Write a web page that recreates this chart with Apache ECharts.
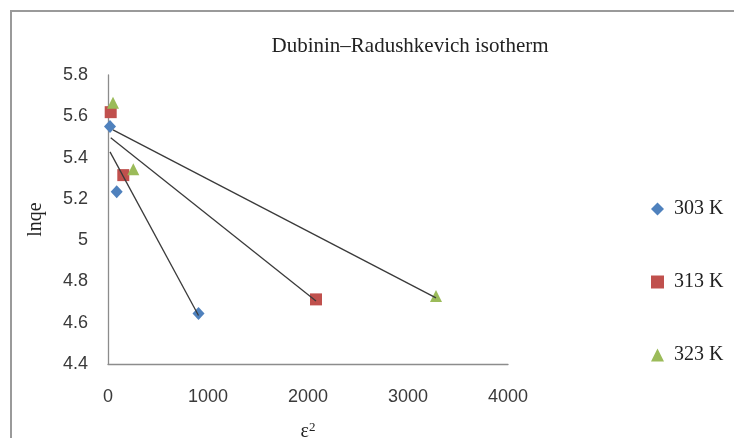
<!DOCTYPE html>
<html>
<head>
<meta charset="utf-8">
<script src="https://cdn.jsdelivr.net/npm/echarts@6/dist/echarts.min.js"></script>
<style>
  html, body { margin: 0; padding: 0; background: #ffffff; }
  #chart { width: 734px; height: 438px; }
</style>
</head>
<body>
<div id="chart"></div>
<script>
// Dubinin–Radushkevich isotherm: ln qe against ε² at three temperatures
const seriesNames = ['303 K', '313 K', '323 K'];
const eps2_303 = [20, 87, 905];
const lnqe_303 = [5.55, 5.235, 4.645];
const eps2_313 = [27, 153, 2080];
const lnqe_313 = [5.62, 5.315, 4.713];
const eps2_323 = [50, 253, 3280];
const lnqe_323 = [5.665, 5.343, 4.729];

const xTicks = { min: 0, max: 4000, interval: 1000 };
const yTicks = { min: 4.4, max: 5.8, interval: 0.2 };

const colors = ['#4F81BD', '#C0504D', '#9BBB59'];
const symbols = ['diamond', 'rect', 'triangle'];

function pairs(xs, ys) {
  return xs.map((x, i) => [x, ys[i]]);
}

// Least-squares linear trend line spanning the measured ε² range
function trend(xs, ys) {
  const n = xs.length;
  const mx = xs.reduce((a, b) => a + b, 0) / n;
  const my = ys.reduce((a, b) => a + b, 0) / n;
  let sxy = 0, sxx = 0;
  for (let i = 0; i < n; i++) {
    sxy += (xs[i] - mx) * (ys[i] - my);
    sxx += (xs[i] - mx) * (xs[i] - mx);
  }
  const slope = sxy / sxx;
  const icpt = my - slope * mx;
  const x0 = Math.min(...xs), x1 = Math.max(...xs);
  return [[x0, icpt + slope * x0], [x1, icpt + slope * x1]];
}

const groups = [
  [eps2_303, lnqe_303],
  [eps2_313, lnqe_313],
  [eps2_323, lnqe_323]
];

const series = [];
groups.forEach(([xs, ys], i) => {
  series.push({
    name: seriesNames[i],
    type: 'scatter',
    symbol: symbols[i],
    symbolSize: i === 0 ? [12, 13] : 12,
    itemStyle: { color: colors[i], opacity: 1 },
    data: pairs(xs, ys),
    z: 2 + i
  });
});
groups.forEach(([xs, ys], i) => {
  series.push({
    name: seriesNames[i] + ' trend',
    type: 'line',
    showSymbol: false,
    symbol: 'none',
    lineStyle: { color: '#3a3a3a', width: 1.3 },
    data: trend(xs, ys),
    silent: true,
    z: 6
  });
});

const chart = echarts.init(document.getElementById('chart'));
chart.setOption({
  animation: false,
  backgroundColor: '#ffffff',
  title: {
    text: 'Dubinin–Radushkevich isotherm',
    left: 405,
    top: 31,
    textAlign: 'center',
    textStyle: {
      fontFamily: 'Liberation Serif',
      fontSize: 21,
      fontWeight: 'normal',
      color: '#222222'
    }
  },
  legend: {
    orient: 'vertical',
    left: 646,
    top: 194,
    itemGap: 53,
    itemWidth: 13,
    itemHeight: 13,
    textStyle: { fontFamily: 'Liberation Serif', fontSize: 20, color: '#222222', padding: [0, 0, 0, 5] },
    data: seriesNames.map((n, i) => ({ name: n, icon: symbols[i] }))
  },
  grid: { left: 108, top: 75, right: 226, bottom: 74, containLabel: false, outerBoundsMode: 'none' },
  xAxis: {
    type: 'value',
    min: xTicks.min,
    max: xTicks.max,
    interval: xTicks.interval,
    name: '{e|ε}{s|2}',
    nameLocation: 'middle',
    nameGap: 57,
    nameTextStyle: {
      rich: {
        e: { fontFamily: 'Liberation Serif', fontSize: 20, color: '#222222' },
        s: { fontFamily: 'Liberation Serif', fontSize: 13, color: '#222222', verticalAlign: 'top', padding: [0, 0, 8, 0] }
      }
    },
    axisLine: { show: true, lineStyle: { color: '#8c8c8c', width: 1.3 } },
    axisTick: { show: false },
    splitLine: { show: false },
    axisLabel: {
      fontFamily: 'Liberation Sans', fontSize: 18, color: '#3a3a3a', margin: 24,
      formatter: v => String(v)
    }
  },
  yAxis: {
    type: 'value',
    min: yTicks.min,
    max: yTicks.max,
    interval: yTicks.interval,
    name: 'lnqe',
    nameLocation: 'middle',
    nameRotate: 90,
    nameGap: 62,
    nameTextStyle: { fontFamily: 'Liberation Serif', fontSize: 20, color: '#222222' },
    axisLine: { show: true, lineStyle: { color: '#8c8c8c', width: 1.3 } },
    axisTick: { show: false },
    splitLine: { show: false },
    axisLabel: { fontFamily: 'Liberation Sans', fontSize: 18, color: '#3a3a3a', margin: 20 }
  },
  graphic: [
    {
      type: 'polyline',
      shape: { points: [[11, 438], [11, 11], [734, 11]] },
      style: { stroke: '#9a9a9a', lineWidth: 2, fill: null },
      silent: true
    }
  ],
  series: series
});
</script>
</body>
</html>
